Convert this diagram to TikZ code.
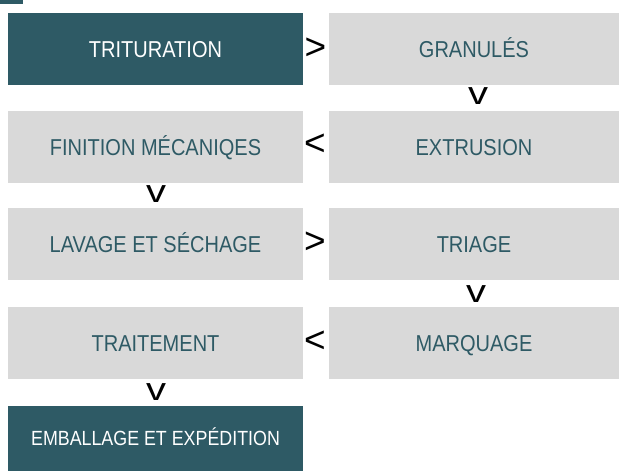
\documentclass[tikz,border=0pt]{standalone}
\usepackage{fontspec}
\setmainfont{Liberation Sans}
\newfontfamily\condfont{Liberation Sans}[FakeStretch=0.87]
\definecolor{teal}{HTML}{2E5A65}
\definecolor{boxgray}{HTML}{D9D9D9}
\begin{document}
\begin{tikzpicture}[x=1pt,y=-1pt,
  base/.style={rectangle, inner sep=0pt, outer sep=0pt, text height=16pt, text depth=0pt, font=\condfont\fontsize{23}{25}\selectfont},
  darkbox/.style={base, fill=teal, text=white},
  graybox/.style={base, fill=boxgray, text=teal},
  leftcol/.style={minimum width=295pt, minimum height=72pt},
  rightcol/.style={minimum width=290pt, minimum height=72pt},
  chev/.style={inner sep=0pt, outer sep=0pt, font=\fontsize{37}{39}\selectfont, text=black},
  vee/.style={inner sep=0pt, outer sep=0pt, font=\fontsize{32}{34}\selectfont, text=black, xscale=1.25}
]
\useasboundingbox (0,0) rectangle (619,471);
\fill[teal] (0,0) rectangle (23,4);
% row 1
\node[darkbox, leftcol] (tri) at (155.5,49) {TRITURATION};
\node[graybox, rightcol] (gra) at (474,49) {GRANULÉS};
% row 2
\node[graybox, leftcol] (fin) at (155.5,147) {FINITION MÉCANIQES};
\node[graybox, rightcol] (ext) at (474,147) {EXTRUSION};
% row 3
\node[graybox, leftcol] (lav) at (155.5,244) {LAVAGE ET SÉCHAGE};
\node[graybox, rightcol] (tria) at (474,244) {TRIAGE};
% row 4
\node[graybox, leftcol] (trai) at (155.5,343) {TRAITEMENT};
\node[graybox, rightcol] (mar) at (474,343) {MARQUAGE};
% row 5
\node[darkbox, minimum width=295pt, minimum height=65pt, text height=14.5pt, font=\condfont\fontsize{20.5}{22}\selectfont] (emb) at (155.5,438.5) {EMBALLAGE ET EXPÉDITION};
% chevrons
\node[chev] (c1) at (315.5,48.5) {>};
\node[chev] (c2) at (315,144.5) {<};
\node[chev] (c3) at (315,243) {>};
\node[chev] (c4) at (315,342) {<};
\node[vee] (v1) at (478,96.5) {v};
\node[vee] (v2) at (156,194.5) {v};
\node[vee] (v3) at (476,294) {v};
\node[vee] (v4) at (156,392.5) {v};
\end{tikzpicture}
\end{document}
